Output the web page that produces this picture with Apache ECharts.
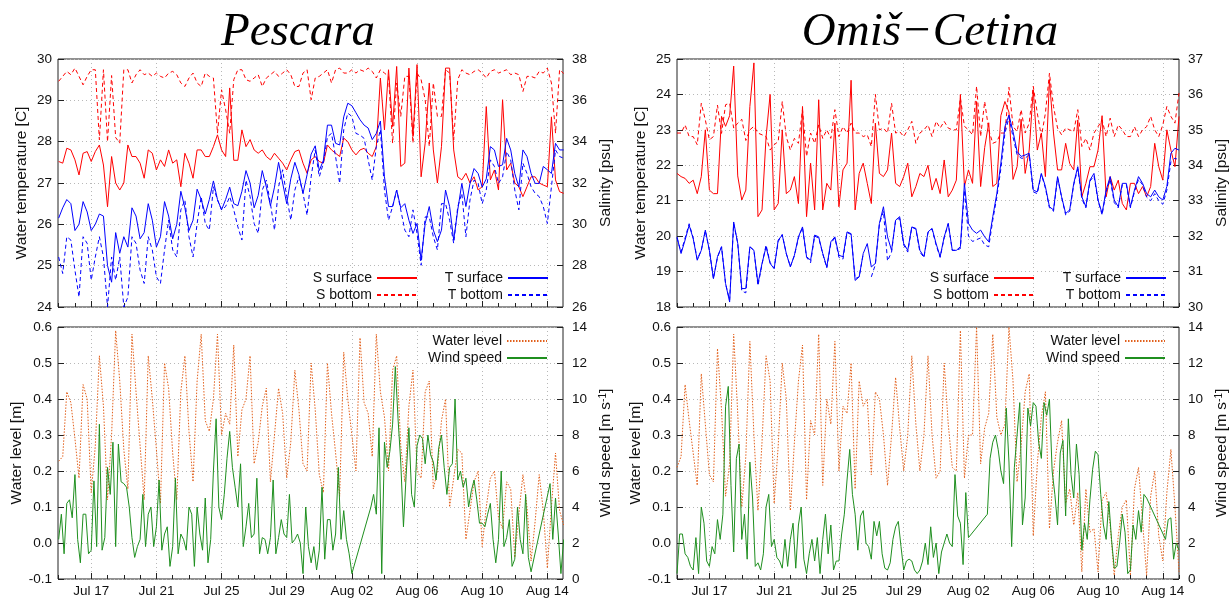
<!DOCTYPE html>
<html>
<head>
<meta charset="utf-8">
<script src="https://cdn.jsdelivr.net/npm/echarts@6/dist/echarts.min.js"></script>
<style>
html,body{margin:0;padding:0;background:#fff;}
#chart{width:1231px;height:598px;}
</style>
</head>
<body>
<div id="chart"></div>
<script>
// ---------- axis ticks / labels (x in day-of-July; Aug n = 31+n) ----------
const labelDays = [17, 21, 25, 29, 33, 37, 41, 45];
const tickDays = [15,16,17,18,19,20,21,22,23,24,25,26,27,28,29,30,31,32,33,34,35,36,37,38,39,40,41,42,43,44,45,46];
const tempTicksP = [24, 25, 26, 27, 28, 29, 30];
const salTicksP = [26, 28, 30, 32, 34, 36, 38];
const tempTicksO = [18, 19, 20, 21, 22, 23, 24, 25];
const salTicksO = [30, 31, 32, 33, 34, 35, 36, 37];
const levelTicks = [-0.1, 0.0, 0.1, 0.2, 0.3, 0.4, 0.5, 0.6];
const windTicks = [0, 2, 4, 6, 8, 10, 12, 14];

// ---------- Pescara, 6-hourly from Jul 15 00:00 ----------
const pescTsurf = [
26.15,26.4,26.6,26.5, 25.85,26.0,26.55,26.3, 25.85,26.0,26.25,26.2, 25.0,24.6,25.8,25.3,
25.7,25.45,26.4,26.2, 25.65,25.8,26.5,26.1, 25.45,25.7,26.55,26.2, 25.65,26.0,26.8,26.4,
25.85,26.1,26.85,26.6, 26.25,26.6,27.05,26.6, 26.35,26.6,26.9,26.5, 26.45,26.8,27.3,27.0,
26.4,26.7,27.3,26.9, 26.45,26.9,27.5,27.0, 26.5,27.1,27.5,27.2, 26.75,27.2,27.7,27.9,
27.3,27.55,28.4,28.4, 27.96,27.92,28.6,28.93, 28.87,28.7,28.53,28.4, 28.33,28.05,28.2,28.5,
27.15,26.43,26.43,26.83, 26.4,26.5,26.1,25.78, 26.02,25.13,26.02,26.43, 25.86,25.58,25.86,26.83,
26.43,25.62,26.35,26.99, 26.43,26.99,27.35,27.23, 26.9,27.1,27.88,27.8, 27.4,27.44,28.08,27.8,
27.23,26.9,27.8,27.64, 27.23,26.99,26.99,27.4, 27.32,27.23,27.96,27.8, 27.8];
const pescTbot = [
25.21,24.81,25.7,25.62, 24.89,24.24,25.7,25.54, 24.65,25.21,25.7,25.21, 24.0,25.21,24.65,25.21,
24.0,24.24,25.7,25.54, 24.89,24.57,25.7,25.38, 24.73,24.57,25.38,26.1, 25.38,25.21,26.35,26.59,
25.7,25.21,26.02,26.67, 26.02,25.86,26.91,26.59, 26.35,26.43,26.67,26.35, 25.94,25.62,27.07,26.67,
26.02,25.78,26.83,27.07, 26.5,25.86,26.91,27.32, 26.67,26.1,26.83,27.15, 26.75,26.22,27.15,27.8,
27.15,27.48,28.12,28.2, 27.64,26.99,28.29,28.69, 28.61,28.2,28.16,28.08, 27.56,27.07,27.88,28.29,
26.83,26.1,26.43,26.83, 26.35,25.86,25.7,26.35, 25.78,25.01,26.18,26.18, 25.7,25.38,26.5,26.5,
26.1,25.54,26.43,26.75, 25.7,26.59,27.07,26.99, 26.5,26.83,27.56,27.4, 26.99,27.15,27.76,27.56,
26.83,26.35,27.48,27.23, 26.91,26.75,26.67,26.43, 26.02,26.91,27.8,27.64, 27.6];
const pescSsurf = [
33.04,32.96,33.68,33.6, 33.12,32.39,33.44,33.52, 33.04,33.52,33.84,32.87, 30.85,33.28,32.0,31.66,
32.0,33.84,33.28,33.28, 32.96,32.23,33.6,33.44, 32.63,33.12,32.8,33.6, 32.96,33.12,31.82,33.44,
32.96,32.23,33.6,33.6, 33.28,33.28,33.76,34.33, 33.6,33.28,36.6,33.1, 33.1,34.57,33.76,34.1,
33.6,33.44,33.6,33.28, 33.12,33.44,33.2,32.96, 32.63,33.12,33.52,33.6, 32.96,32.47,33.12,33.28,
33.04,32.96,33.84,33.6, 33.44,33.28,34.17,34.0, 33.6,33.36,33.6,33.68, 33.44,33.28,33.76,37.08,
34.57,37.48,34.73,37.64, 32.8,32.96,37.56,34.25, 37.73,32.3,33.93,36.84, 33.6,32.0,33.76,37.56,
37.56,33.6,32.3,32.15, 32.47,32.0,32.3,31.66, 31.82,35.7,32.15,32.63, 31.66,36.03,32.63,32.96,
32.0,31.82,31.34,31.82, 32.3,32.3,32.0,31.9, 31.82,35.2,32.15,31.58, 31.5];
const pescSbot = [
36.92,37.16,37.4,37.24, 37.56,37.16,36.75,37.16, 37.48,37.48,34.09,37.48, 34.0,37.2,34.2,33.93,
37.48,37.48,36.84,37.24, 37.48,37.24,37.32,37.16, 37.32,37.16,37.08,37.32, 37.4,37.24,36.84,36.67,
37.08,37.32,36.84,36.67, 37.32,37.16,37.08,34.41, 36.51,35.54,34.41,37.0, 37.48,37.48,37.0,36.92,
37.08,37.24,36.67,37.08, 37.24,37.4,37.16,37.32, 37.48,37.24,36.67,36.67, 37.32,37.48,36.03,37.08,
37.16,37.32,37.48,36.84, 37.48,37.56,37.32,37.32, 37.48,37.32,37.48,37.4, 37.56,37.4,37.08,37.48,
37.32,37.16,33.93,36.84, 35.22,37.16,37.16,33.93, 37.32,37.0,36.03,33.77, 36.84,35.22,35.22,37.48,
37.32,34.09,37.0,37.48, 37.32,37.24,37.4,37.48, 37.32,37.08,37.4,37.48, 37.32,37.4,37.48,37.24,
37.32,37.24,36.43,37.16, 37.16,37.08,37.4,37.32, 37.56,36.84,34.41,37.48, 37.3];
const pescLevel = [
0.227,0.24,0.42,0.39, 0.29,0.18,0.44,0.40, 0.14,0.27,0.52,0.38, 0.12,0.30,0.59,0.45,
0.26,0.15,0.58,0.42, 0.27,0.12,0.52,0.40, 0.26,0.11,0.50,0.43, 0.25,0.12,0.42,0.52,
0.31,0.17,0.45,0.58, 0.34,0.31,0.40,0.58, 0.30,0.36,0.33,0.55, 0.24,0.37,0.40,0.52,
0.22,0.28,0.38,0.43, 0.17,0.30,0.43,0.36, 0.18,0.28,0.48,0.37, 0.22,0.20,0.50,0.37,
0.19,0.14,0.50,0.36, 0.25,0.13,0.53,0.40, 0.30,0.20,0.57,0.39, 0.36,0.24,0.58,0.42,
0.35,0.20,0.48,0.52, 0.27,0.17,0.38,0.48, 0.20,0.18,0.42,0.45, 0.15,0.20,0.34,0.40,
0.10,0.18,0.26,0.25, 0.01,0.09,0.17,0.20, -0.01,0.10,0.18,0.20, 0.07,0.04,0.17,0.15,
-0.04,0.08,0.19,0.10, -0.05,0.06,0.19,0.09, -0.07,0.10,0.25,0.09, 0.05];
// 4-hourly from Jul 15 00:00 (null = no data)
const pescWind = [
2.2,3.6,1.4,4.2,4.4,3.4, 5.8,2.2,0.9,3.6,3.6,1.4, 1.6,5.45,1.8,8.6,1.6,2.3, 6.2,4.7,7.6,1.8,7.5,5.4,
5.3,5.1,4.0,2.3,1.2,1.8, 2.2,4.7,1.8,3.6,4.0,1.8, 2.9,5.5,1.6,2.5,2.9,0.7, 1.8,5.6,1.4,2.5,2.2,1.6,
4.0,3.6,0.7,4.0,2.5,1.6, 4.5,0.9,2.2,6.0,8.9,4.0, 3.3,4.7,6.7,8.2,6.2,5.1, 4.0,6.4,1.8,2.9,4.2,2.3,
2.5,5.6,1.4,2.3,2.2,1.4, 2.3,5.5,1.4,2.3,3.3,2.5, 2.3,4.7,2.0,2.2,2.5,2.0, 0.3,4.0,1.8,0.9,1.8,0.5,
1.6,5.1,1.1,3.3,3.3,1.6, 2.5,6.2,2.2,3.8,2.2,1.4, 0.3,null,null,null,null,null, null,4.0,4.7,3.6,8.4,0.3,
7.6,6.2,7.1,8.6,11.8,8.9, 6.5,2.9,5.8,8.4,4.7,4.0, 7.4,8.0,7.8,6.4,8.0,6.9, 6.5,5.5,7.3,8.0,6.2,4.7,
6.2,6.4,10.0,5.5,6.0,5.1, 5.6,4.0,4.9,5.5,4.4,3.1, 3.1,2.9,3.6,4.2,2.2,0.9, 2.2,6.0,1.8,2.3,3.3,0.7,
1.1,4.0,2.2,1.4,4.7,1.2, 0.4,null,null,null,null,null, null,5.3,2.2,4.5,2.5,0.3, 2.2];

// ---------- Omis-Cetina, 6-hourly from Jul 15 00:00 ----------
const omisTsurf = [
19.98,19.51,19.89,20.31, 19.93,19.32,19.6,20.17, 19.6,18.8,19.42,19.7, 18.66,18.14,20.4,19.8,
18.52,18.52,19.7,19.6, 18.66,19.23,19.7,19.23, 19.08,19.89,20.03,19.51, 19.13,19.46,19.98,20.26,
19.42,19.32,20.03,19.98, 19.51,19.13,19.84,19.98, 19.46,19.42,20.12,20.07, 18.75,18.85,19.51,19.79,
19.13,19.23,20.36,20.83, 19.98,19.6,20.45,20.55, 19.79,19.6,20.26,20.22, 19.6,19.42,20.12,20.22,
19.79,19.42,19.98,20.36, 19.6,19.6,19.7,21.49, 20.36,20.17,20.08,20.17, 19.98,19.84,20.55,21.2,
22.06,23.09,23.42,22.95, 22.39,22.25,22.29,22.34, 21.3,21.25,21.77,21.4, 20.83,20.74,21.68,21.11,
20.64,20.74,21.49,21.96, 21.11,20.83,21.58,21.77, 21.02,20.64,21.3,21.68, 21.02,20.83,21.49,21.49,
20.83,21.3,21.68,21.49, 21.2,21.11,21.3,21.11, 21.02,21.4,22.34,22.48, 22.43];
const omisTbot = [
19.95,19.55,19.95,20.35, 19.95,19.35,19.6,20.15, 19.6,18.8,19.4,19.7, 18.65,18.2,20.35,19.8,
18.45,18.4,19.7,19.6, 18.6,19.2,19.75,19.25, 19.1,19.85,20.05,19.5, 19.15,19.45,19.95,20.25,
19.4,19.25,20.0,19.95, 19.5,19.1,19.8,19.95, 19.4,19.35,20.1,20.05, 18.8,18.85,19.5,null,
18.85,19.2,20.35,20.7, 19.3,19.55,20.45,20.5, 19.75,19.55,20.25,20.2, 19.55,19.4,20.1,20.2,
19.75,19.4,19.95,20.35, 19.6,19.6,19.65,21.3, 20.0,19.85,19.9,19.95, 19.75,19.7,20.45,21.1,
21.9,22.9,23.35,22.8, 22.3,22.2,22.2,22.3, 21.25,21.2,21.75,21.35, 20.8,20.7,21.65,21.1,
20.6,20.7,21.45,21.9, 21.05,20.8,21.55,21.7, 21.0,20.6,21.25,21.6, 20.95,20.8,21.45,21.45,
20.8,21.25,21.6,21.45, 21.1,21.0,21.2,21.0, 20.9,21.3,22.1,22.2, 22.15];
const omisSsurf = [
33.77,33.68,33.63,33.49, 33.58,33.2,33.68,35.0, 33.3,33.2,33.2,35.38, 35.1,35.4,36.8,33.7,
33.02,33.3,35.66,36.89, 32.55,32.74,34.8,36.0, 32.74,32.92,35.0,33.2, 33.3,33.68,32.92,35.66,
32.55,34.06,32.74,35.85, 32.74,33.49,33.3,35.19, 32.83,33.87,34.06,36.4, 32.74,33.77,34.06,33.49,
32.92,35.19,33.77,33.68, 33.87,34.91,33.49,33.4, 33.68,34.06,33.11,33.4, 33.77,33.68,34.0,33.3,
33.63,33.2,34.15,33.11, 33.3,33.58,36.0,33.4, 33.87,33.49,35.8,33.4, 34.5,35.2,33.4,33.49,
35.4,35.8,35.5,33.6, 33.96,35.3,33.77,34.43, 36.13,34.43,34.91,33.68, 36.42,34.91,33.87,33.87,
34.62,34.05,33.87,35.28, 33.11,33.49,33.96,33.96, 34.43,35.4,33.11,33.68, 33.3,33.58,32.92,32.74,
33.49,33.49,33.2,33.4, 33.11,33.4,34.62,33.96, 33.58,35.0,34.43,33.96, 35.38];
const omisSbot = [
34.91,34.91,35.14,34.81, 34.81,34.58,35.75,35.28, 34.72,34.81,35.7,34.9, 35.71,35.75,35.05,35.19,
35.3,34.7,35.0,35.1, 34.91,34.86,34.81,34.43, 34.58,34.67,35.8,34.8, 34.43,34.76,34.62,35.57,
34.25,34.91,34.62,35.14, 34.76,35.0,34.76,35.57, 34.81,35.09,34.91,35.19, 34.91,34.91,34.81,34.86,
34.53,36.0,35.0,35.05, 34.91,35.75,34.91,34.95, 34.81,35.0,35.24,34.62, 34.91,35.0,35.14,34.81,
35.24,35.05,35.24,35.05, 35.0,35.0,35.9,35.1, 35.0,34.86,36.23,34.81, 35.8,35.0,34.62,34.67,
34.91,34.91,36.2,35.1, 34.95,35.57,34.91,35.19, 36.23,35.47,34.81,35.47, 36.6,35.66,35.05,34.86,
35.05,35.0,34.95,35.57, 34.53,34.76,34.43,34.91, 35.09,35.28,34.81,35.33, 34.81,35.14,35.0,34.81,
34.81,35.09,34.81,35.0, 35.09,35.38,35.0,34.81, 35.14,35.66,35.38,35.19, 36.04];
const omisLevel = [
0.21,0.24,0.44,0.34, 0.25,0.16,0.47,0.33, 0.19,0.17,0.54,0.37, 0.13,0.22,0.58,0.36,
0.10,0.24,0.56,0.30, 0.09,0.28,0.52,0.45, 0.11,0.27,0.50,0.40, 0.09,0.28,0.45,0.55,
0.12,0.34,0.30,0.58, 0.16,0.40,0.33,0.56, 0.20,0.38,0.36,0.50, 0.15,0.45,0.38,0.40,
0.19,0.42,0.40,0.30, 0.16,0.30,0.46,0.32, 0.20,0.30,0.52,0.33, 0.20,0.30,0.52,0.30,
0.18,0.20,0.50,0.33, 0.21,0.20,0.59,0.18, 0.30,0.30,0.60,0.22, 0.32,0.36,0.58,0.35,
0.30,0.33,0.60,0.45, 0.17,0.27,0.42,0.47, 0.02,0.22,0.35,0.42, 0.04,0.20,0.28,0.34,
0.11,0.15,0.05,0.14, -0.08,0.15,0.03,0.04, -0.08,0.12,0.14,0.05, -0.09,0.02,0.10,0.12,
-0.09,0.15,0.21,0.06, -0.09,0.13,0.20,0.02, -0.05,0.14,0.26,0.10, -0.08];
// 4-hourly from Jul 15 00:00
const omisWind = [
0.3,2.5,2.5,1.4,1.2,0.7, 0.5,2.3,0.3,4.0,3.1,1.0, 0.7,1.8,1.4,3.3,2.2,3.6, 9.6,10.7,5.2,1.5,6.7,7.5,
2.2,3.6,1.1,6.5,4.5,0.7, 0.9,0.5,1.4,4.0,4.7,1.8, 2.2,1.2,1.0,0.6,2.2,0.7, 2.2,3.1,0.6,3.0,4.0,1.1,
0.3,1.4,2.2,1.0,2.3,0.3, 2.2,3.6,1.4,3.0,0.5,1.0, 1.0,2.5,3.6,5.5,7.2,4.7, 3.6,1.6,3.5,3.8,2.0,1.8,
1.1,3.2,2.4,3.2,1.4,0.6, 0.5,0.9,2.2,2.9,3.2,1.8, 0.5,1.0,1.1,1.0,0.5,0.3, 0.5,1.0,2.0,0.8,2.9,1.2,
2.0,0.3,1.5,2.0,2.5,2.0, 1.8,5.8,3.5,3.1,0.8,4.8, 2.3,null,null,null,null,null, null,3.6,6.7,7.6,8.0,7.2,
6.0,5.3,9.5,6.5,1.8,6.2, 8.0,9.8,3.0,4.5,9.5,8.5, 9.8,9.6,7.6,6.7,9.8,9.1, 10.0,6.0,4.7,3.0,7.0,7.7,
3.5,8.9,5.8,4.5,7.5,5.8, 1.6,3.1,2.2,4.4,6.1,7.1, 6.9,4.7,3.0,2.2,4.3,2.2, 0.6,0.7,2.0,3.6,2.6,0.3,
0.5,3.0,2.2,3.8,2.6,4.7, 4.5,null,null,null,null,null, null,2.2,3.3,3.4,1.1,2.0, 1.6];

// ---------- helpers ----------
const FONT = '"Liberation Sans", Arial, sans-serif';
const START_DAY = 15;
function every6h(vals) { return vals.map((v, i) => [START_DAY + i * 0.25, v]); }
function every4h(vals) { return vals.map((v, i) => [START_DAY + i / 6, v]); }
function dayLabel(v) {
  const d = Math.round(v);
  return d <= 31 ? 'Jul ' + d : 'Aug ' + String(d - 31).padStart(2, '0');
}
const RED = '#ff0000', BLUE = '#0000ff', ORANGE = '#e2601c', GREEN = '#1f8f1f';
const DASH = [4, 3], DOT = [1.5, 1.5];

const grids = [
  {left: 58, top: 59, width: 505, height: 248, range: [14.96, 45.96], bottom: false},
  {left: 58, top: 327, width: 505, height: 256, range: [14.96, 45.96], bottom: true},
  {left: 677, top: 59, width: 504, height: 248, range: [15.0, 46.0], bottom: false},
  {left: 677, top: 327, width: 504, height: 256, range: [15.0, 46.0], bottom: true}
];

const xAxis = [];
grids.forEach((g, gi) => {
  xAxis.push({
    type: 'value', gridIndex: gi, min: g.range[0], max: g.range[1], position: 'bottom',
    axisLine: {show: false, onZero: false},
    axisTick: {show: true, inside: true, length: 6, customValues: labelDays, lineStyle: {color: '#222', width: 1}},
    axisLabel: {show: g.bottom, customValues: labelDays, formatter: dayLabel, fontSize: 13.5, fontFamily: FONT, color: '#111', margin: 5},
    splitLine: {show: true, lineStyle: {color: '#b8b8b8', type: [1, 3], width: 1}}
  });
  xAxis.push({
    type: 'value', gridIndex: gi, min: g.range[0], max: g.range[1], position: 'bottom',
    axisLine: {show: false, onZero: false},
    axisTick: {show: true, inside: true, length: 4, customValues: tickDays, lineStyle: {color: '#222', width: 1}},
    axisLabel: {show: false},
    splitLine: {show: false}
  });
});

function yAx(gi, pos, min, max, interval, name, gap, fmt, split, rich) {
  return {
    type: 'value', gridIndex: gi, position: pos, min: min, max: max, interval: interval,
    name: name, nameLocation: 'middle', nameGap: gap, nameRotate: 90,
    nameTextStyle: {fontSize: 15.5, fontFamily: FONT, color: '#111', rich: rich || {}},
    axisLine: {show: false, onZero: false},
    axisTick: {show: true, inside: true, length: 6, lineStyle: {color: '#222'}},
    axisLabel: {fontSize: 13.5, fontFamily: FONT, color: '#111', margin: pos === 'left' ? 6 : 9, formatter: fmt},
    splitLine: {show: split, lineStyle: {color: '#b8b8b8', type: [1, 3], width: 1}}
  };
}
const fmtInt = v => String(Math.round(v));
const fmtLevel = v => (Math.abs(v) < 1e-9 ? 0 : v).toFixed(1);
const supRich = {sup: {fontSize: 10, fontFamily: FONT, color: '#111', verticalAlign: 'top', lineHeight: 10}};
const windName = 'Wind speed [m s{sup|-1}]';

const yAxis = [
  yAx(0, 'left', tempTicksP[0], tempTicksP[tempTicksP.length - 1], 1, 'Water temperature [C]', 28, fmtInt, true),
  yAx(0, 'right', salTicksP[0], salTicksP[salTicksP.length - 1], 2, 'Salinity [psu]', 35, fmtInt, false),
  yAx(1, 'left', levelTicks[0], levelTicks[levelTicks.length - 1], 0.1, 'Water level [m]', 32, fmtLevel, true),
  yAx(1, 'right', windTicks[0], windTicks[windTicks.length - 1], 2, windName, 35, fmtInt, false, supRich),
  yAx(2, 'left', tempTicksO[0], tempTicksO[tempTicksO.length - 1], 1, 'Water temperature [C]', 28, fmtInt, true),
  yAx(2, 'right', salTicksO[0], salTicksO[salTicksO.length - 1], 1, 'Salinity [psu]', 35, fmtInt, false),
  yAx(3, 'left', levelTicks[0], levelTicks[levelTicks.length - 1], 0.1, 'Water level [m]', 32, fmtLevel, true),
  yAx(3, 'right', windTicks[0], windTicks[windTicks.length - 1], 2, windName, 35, fmtInt, false, supRich)
];

function line(name, data, xi, yi, color, type, connect) {
  return {
    type: 'line', name: name, data: data, xAxisIndex: xi, yAxisIndex: yi,
    symbol: 'none', showSymbol: false, connectNulls: !!connect, animation: false,
    lineStyle: {color: color, width: 1, type: type}, itemStyle: {color: color},
    emphasis: {disabled: true}
  };
}

const series = [
  line('S surface', every6h(pescSsurf), 0, 1, RED, 'solid'),
  line('S bottom', every6h(pescSbot), 0, 1, RED, DASH),
  line('T surface', every6h(pescTsurf), 0, 0, BLUE, 'solid'),
  line('T bottom', every6h(pescTbot), 0, 0, BLUE, DASH),
  line('Water level', every6h(pescLevel), 2, 2, ORANGE, DOT),
  line('Wind speed', every4h(pescWind), 2, 3, GREEN, 'solid', true),
  line('S surface', every6h(omisSsurf), 4, 5, RED, 'solid'),
  line('S bottom', every6h(omisSbot), 4, 5, RED, DASH),
  line('T surface', every6h(omisTsurf), 4, 4, BLUE, 'solid'),
  line('T bottom', every6h(omisTbot), 4, 4, BLUE, DASH),
  line('Water level', every6h(omisLevel), 6, 6, ORANGE, DOT),
  line('Wind speed', every4h(omisWind), 6, 7, GREEN, 'solid', true)
];

function leg(name, right, top) {
  return {
    data: [name], right: right, top: top, orient: 'horizontal', align: 'right',
    itemWidth: 40, itemHeight: 14, padding: 0, itemGap: 0, selectedMode: false,
    itemStyle: {opacity: 0},
    textStyle: {fontSize: 14, fontFamily: FONT, color: '#111'}
  };
}
const legend = [
  leg('S surface', 813, 271), leg('T surface', 682, 271),
  leg('S bottom', 813, 288), leg('T bottom', 682, 288),
  leg('S surface', 196, 271), leg('T surface', 64, 271),
  leg('S bottom', 196, 288), leg('T bottom', 64, 288),
  leg('Water level', 683, 334), leg('Wind speed', 683, 351),
  leg('Water level', 65, 334), leg('Wind speed', 65, 351)
];

const chart = echarts.init(document.getElementById('chart'), null, {renderer: 'canvas'});
chart.setOption({
  animation: false,
  backgroundColor: '#fff',
  grid: grids.map(g => ({left: g.left, top: g.top, width: g.width, height: g.height, show: true, borderColor: '#222', borderWidth: 1, backgroundColor: 'transparent', containLabel: false})),
  xAxis: xAxis,
  yAxis: yAxis,
  legend: legend,
  series: series,
  graphic: [
    {type: 'text', x: 298, y: 33, style: {text: 'Pescara', font: 'italic 47px "Liberation Serif", "Times New Roman", serif', fill: '#000', align: 'center', verticalAlign: 'middle'}},
    {type: 'text', x: 930, y: 33, style: {text: 'Omiš\u2212Cetina', font: 'italic 47px "Liberation Serif", "Times New Roman", serif', fill: '#000', align: 'center', verticalAlign: 'middle'}}
  ]
});
</script>
</body>
</html>
